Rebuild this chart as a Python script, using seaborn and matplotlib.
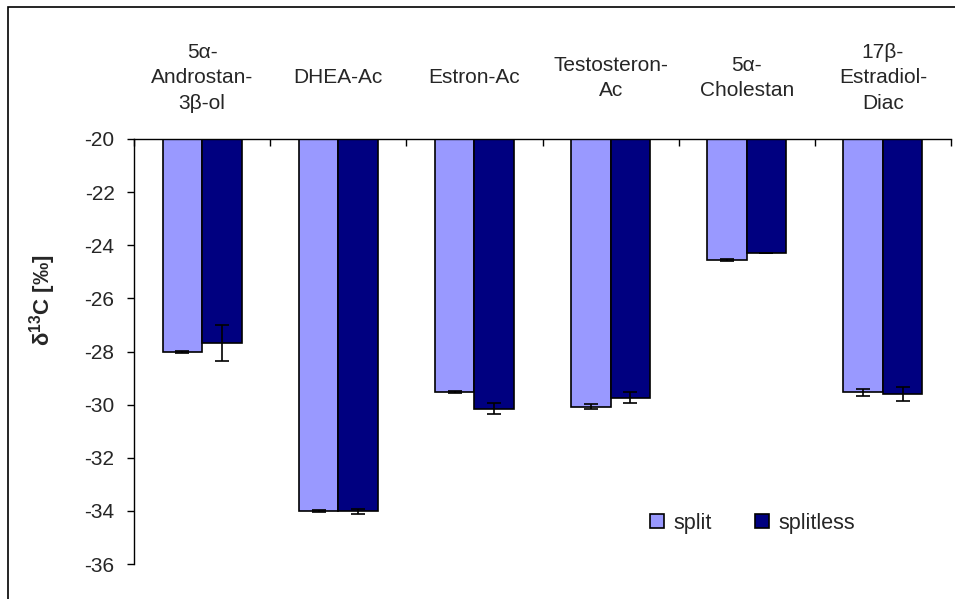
import numpy as np
import pandas as pd
import seaborn as sns
import matplotlib
matplotlib.use("Agg")
import matplotlib.pyplot as plt
from matplotlib.patches import Rectangle

# values
compounds = ["5α-\nAndrostan-\n3β-ol", "DHEA-Ac", "Estron-Ac",
             "Testosteron-\nAc", "5α-\nCholestan", "17β-\nEstradiol-\nDiac"]
split = [-28.01, -34.00, -29.53, -30.08, -24.55, -29.54]
split_err = [0.04, 0.04, 0.05, 0.10, 0.03, 0.13]
splitless = [-27.67, -34.02, -30.15, -29.74, -24.30, -29.60]
splitless_err = [0.68, 0.10, 0.20, 0.20, 0.0, 0.27]
modes = ["split", "splitless"]
colors = ["#9999FF", "#000080"]

sns.set_style("ticks")
plt.rcParams['font.family'] = ['Liberation Sans', 'DejaVu Sans']
plt.rcParams['axes.unicode_minus'] = False
plt.rcParams['mathtext.fontset'] = 'custom'
plt.rcParams['mathtext.rm'] = 'Liberation Sans:bold'
plt.rcParams['mathtext.bf'] = 'Liberation Sans:bold'

df = pd.DataFrame({
    "compound": compounds * 2,
    "d13C": split + splitless,
    "mode": [modes[0]] * len(compounds) + [modes[1]] * len(compounds),
})

fig = plt.figure(figsize=(9.55, 5.99), dpi=100)
ax = fig.add_axes([134/955, 1 - 564/599, (951 - 134)/955, (564 - 139)/599])

sns.barplot(data=df, x="compound", y="d13C", hue="mode", hue_order=modes,
            palette=colors, saturation=1, width=0.58, gap=0, edgecolor="black",
            linewidth=1.2, errorbar=None, ax=ax)

# error bars at the bar centres
for cont, vals, errs in zip(ax.containers, [split, splitless], [split_err, splitless_err]):
    xs = [p.get_x() + p.get_width() / 2 for p in cont]
    ax.errorbar(xs, vals, yerr=errs, fmt="none", ecolor="black",
                elinewidth=1.2, capsize=5, capthick=1.2, zorder=5)

ax.set_ylim(-36, -20)
ax.set_xlim(-0.5, 5.5)
ax.set_yticks(range(-36, -19, 2))
ax.set_xlabel("")
ax.set_ylabel("")

ax.xaxis.tick_top()
ax.set_xticks(range(len(compounds)))
ax.set_xticklabels(compounds, va="center", ha="center", fontsize=15, linespacing=1.45)
ax.set_xticks(np.arange(-0.5, len(compounds), 1), minor=True)
ax.tick_params(axis="x", which="major", length=0, pad=44)
ax.tick_params(axis="x", which="minor", direction="in", length=5, width=1, color="black")
ax.tick_params(axis="y", direction="out", length=5, width=1, pad=9, labelsize=15, color="black")

for s in ["right", "bottom"]:
    ax.spines[s].set_visible(False)
for s in ["left", "top"]:
    ax.spines[s].set_linewidth(1)
    ax.spines[s].set_color("black")

ax.get_legend().remove()
handles = [Rectangle((0, 0), 1, 1, facecolor=c, edgecolor="black", linewidth=1.2) for c in colors]
fig.legend(handles, modes, loc="center left", bbox_to_anchor=(650/955, 1 - 523/599),
           ncol=2, frameon=False, fontsize=15.5, handlelength=0.65, handleheight=0.65,
           handletextpad=0.45, columnspacing=2.0, borderpad=0, borderaxespad=0)

fig.text(43/955, 1 - 300/599, r"δ$^{13}$C [‰]", rotation=90, ha="center", va="center",
         fontsize=16, fontweight="bold")

# chart area border (left and top visible)
fig.add_artist(Rectangle((8/955, -0.1), 1.2, (1 - 7/599) + 0.1, transform=fig.transFigure,
                         fill=False, edgecolor="black", linewidth=1.2))

fig.savefig("out.png", dpi=100)
